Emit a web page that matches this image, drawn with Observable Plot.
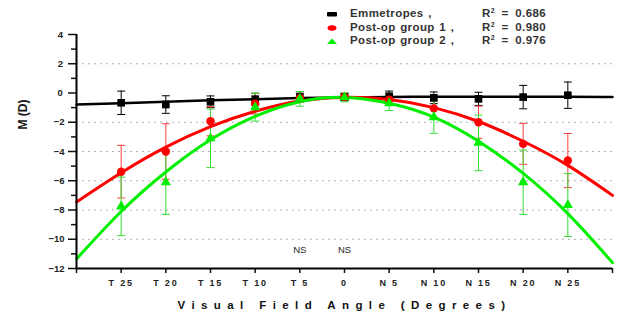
<!DOCTYPE html>
<html>
<head>
<meta charset="utf-8">
<script src="https://cdn.jsdelivr.net/npm/d3@7"></script>
<script src="https://cdn.jsdelivr.net/npm/@observablehq/plot@0.6"></script>
<style>
  body { margin: 0; background: #fff; }
  #wrap { position: relative; width: 627px; height: 322px; font-family: "Liberation Sans", Arial, sans-serif; }
  #legend { position: absolute; left: 0; top: 0; width: 627px; height: 50px; pointer-events: none; }
  .lrow { position: absolute; font-size: 11.5px; font-weight: bold; color: #333; letter-spacing: 0.4px; word-spacing: 1px; line-height: 13px; white-space: nowrap; }
  .lrow.r { word-spacing: 3px; }
  .lrow sup { font-size: 7px; vertical-align: 4px; line-height: 0; }
  .mk { position: absolute; }
</style>
</head>
<body>
<div id="wrap"><div id="legend"></div></div>
<script>
// ---- data ----
const angles = [-25, -20, -15, -10, -5, 0, 5, 10, 15, 20, 25];
const emmMean = [-0.67, -0.79, -0.6, -0.42, -0.27, -0.27, -0.22, -0.33, -0.4, -0.28, -0.15];
const emmSD   = [0.8, 0.6, 0.4, 0.4, 0.35, 0.25, 0.35, 0.4, 0.45, 0.8, 0.9];
const g1Mean  = [-5.38, -4.0, -1.93, -0.74, -0.35, -0.27, -0.45, -1.05, -2.0, -3.48, -4.62];
const g1SD    = [1.8, 1.9, 1.0, 0.7, 0.3, 0.2, 0.3, 0.6, 1.1, 1.4, 1.85];
const g2Mean  = [-7.75, -6.1, -3.1, -0.97, -0.4, -0.3, -0.7, -1.66, -3.41, -6.1, -7.66];
const g2SD    = [2.0, 2.2, 2.0, 0.95, 0.5, 0.3, 0.5, 1.1, 1.9, 2.2, 2.15];

const fitAngles = [-30, -25, -20, -15, -10, -5, 0, 5, 10, 15, 20, 25, 30];
const emmFit = [-0.78, -0.7, -0.6, -0.5, -0.42, -0.35, -0.3, -0.27, -0.26, -0.25, -0.25, -0.26, -0.28];
const g1Fit  = [-7.45, -5.45, -3.7, -2.3, -1.25, -0.55, -0.3, -0.45, -1.0, -1.95, -3.3, -4.95, -7.0];
const g2Fit  = [-11.35, -8.1, -5.4, -3.2, -1.6, -0.6, -0.3, -0.7, -1.65, -3.3, -5.5, -8.25, -11.6];

const seriesNames = ["Emmetropes ,", "Post-op group 1 ,", "Post-op group 2 ,"];
const rSquared = ["0.686", "0.980", "0.976"];

const xTicks = [-30, -25, -20, -15, -10, -5, 0, 5, 10, 15, 20, 25, 30];
const xTickLabels = ["", "T 25", "T 20", "T 15", "T 10", "T 5", "0", "N 5", "N 10", "N 15", "N 20", "N 25", ""];
const yTicks = [-12, -10, -8, -6, -4, -2, 0, 2, 4];
const yMinor = [-11, -9, -7, -5, -3, -1, 1, 3];
const gridY = [-10, -8, -6, -4, -2, 2];
const nsAngles = [-5, 0];
const nsText = "NS";
const xTitle = "Visual Field Angle (Degrees)";
const yTitle = "M (D)";

// ---- build tables ----
const pts = (mean, sd) => angles.map((a, i) => ({x: a, y: mean[i], lo: mean[i] - sd[i], hi: mean[i] + sd[i]}));
const emm = pts(emmMean, emmSD), g1 = pts(g1Mean, g1SD), g2 = pts(g2Mean, g2SD);
const fit = arr => fitAngles.map((a, i) => ({x: a, y: arr[i]}));

const BLACK = "#000", RED = "#ff0000", GREEN = "#00ee00";
const RED_E = "#ff4040", GREEN_E = "#33dd33";

const cap = {draw(ctx, size) { const r = Math.sqrt(size / Math.PI); ctx.moveTo(-r, 0); ctx.lineTo(r, 0); }};

const errMarks = (d, c) => [
  Plot.ruleX(d, {x: "x", y1: "lo", y2: "hi", stroke: c, strokeWidth: 1}),
  Plot.dot(d, {x: "x", y: "lo", symbol: cap, r: 4, stroke: c, fill: "none", strokeWidth: 1}),
  Plot.dot(d, {x: "x", y: "hi", symbol: cap, r: 4, stroke: c, fill: "none", strokeWidth: 1})
];

const chart = Plot.plot({
  width: 627,
  height: 322,
  marginLeft: 76,
  marginRight: 15,
  marginTop: 34,
  marginBottom: 54,
  style: {fontFamily: "'Liberation Sans', Arial, sans-serif", background: "white", overflow: "visible"},
  x: {domain: [-30, 30]},
  y: {domain: [-12, 4]},
  marks: [
    Plot.ruleY(gridY, {stroke: "#b0b0b0", strokeWidth: 1, strokeDasharray: "2,4"}),
    Plot.axisY(yTicks, {tickSize: 8, tickPadding: 4, fontWeight: "bold", fontSize: 9.5, fill: "#222", stroke: "#111", strokeWidth: 1.5, label: null}),
    Plot.axisY(yMinor, {tickSize: 5, tickFormat: () => "", stroke: "#111", strokeWidth: 1.5, label: null}),
    Plot.axisX(xTicks, {tickSize: 5, tickPadding: 6, fontWeight: "bold", fontSize: 9, fill: "#222", stroke: "#111", strokeWidth: 1.5, label: null,
      tickFormat: d => xTickLabels[xTicks.indexOf(d)]}),
    ...errMarks(emm, BLACK),
    ...errMarks(g1, RED_E),
    ...errMarks(g2, GREEN_E),
    Plot.line(fit(emmFit), {x: "x", y: "y", stroke: BLACK, strokeWidth: 2.5, curve: "natural"}),
    Plot.line(fit(g1Fit), {x: "x", y: "y", stroke: RED, strokeWidth: 3, curve: "natural"}),
    Plot.line(fit(g2Fit), {x: "x", y: "y", stroke: GREEN, strokeWidth: 3, curve: "natural"}),
    Plot.dot(emm, {x: "x", y: "y", symbol: "square", r: 4.3, fill: BLACK}),
    Plot.dot(g1, {x: "x", y: "y", symbol: "circle", r: 4.2, fill: RED}),
    Plot.dot(g2, {x: "x", y: "y", symbol: "triangle", r: 3.8, fill: GREEN}),
    Plot.ruleX([-30], {stroke: "#000", strokeWidth: 2}),
    Plot.ruleY([-12], {stroke: "#000", strokeWidth: 2}),
    Plot.text(nsAngles, {x: d => d, frameAnchor: "bottom", dy: -16, text: () => nsText, fontSize: 9.5, fill: "#222"}),
    Plot.text([xTitle], {frameAnchor: "bottom", dy: 40, text: d => d, fontSize: 11.5, fontWeight: "bold", fill: "#111"}),
    Plot.text([yTitle], {frameAnchor: "left", dx: -53, dy: -22, rotate: -90, text: d => d, fontSize: 12, fontWeight: "bold", fill: "#111"})
  ]
});
document.getElementById("wrap").prepend(chart);

// letter spacing for the spaced-out texts
d3.select(chart).selectAll("text").each(function() {
  const t = d3.select(this).text();
  if (t === xTitle) d3.select(this).attr("letter-spacing", "6.4px");
  else if (xTickLabels.includes(t)) d3.select(this).attr("letter-spacing", "1.8px");
  else if (yTicks.map(String).includes(t) || yTicks.map(v => v.toLocaleString()).includes(t)) d3.select(this).attr("letter-spacing", "1.5px");
});

// ---- legend ----
const legend = d3.select("#legend");
const rowY = [14, 27.5, 41];
const markers = [
  `<svg class="mk" width="12" height="8" style="left:326px;top:${rowY[0]-4}px"><rect x="1" y="2" width="10" height="4.5" rx="1" fill="${BLACK}"/></svg>`,
  `<svg class="mk" width="12" height="8" style="left:326px;top:${rowY[1]-4}px"><ellipse cx="6" cy="4" rx="4.5" ry="2.7" fill="${RED}"/></svg>`,
  `<svg class="mk" width="12" height="8" style="left:326px;top:${rowY[2]-4}px"><path d="M1,7 L6,1.5 L11,7 Z" fill="${GREEN}"/></svg>`
];
seriesNames.forEach((name, i) => {
  legend.append("div").html(markers[i]);
  legend.append("div").attr("class", "lrow").style("left", "350px").style("top", (rowY[i] - 7) + "px").text(name);
  legend.append("div").attr("class", "lrow r").style("left", "482px").style("top", (rowY[i] - 7) + "px")
    .html(`R<sup>2</sup> = ${rSquared[i]}`);
});
</script>
</body>
</html>
